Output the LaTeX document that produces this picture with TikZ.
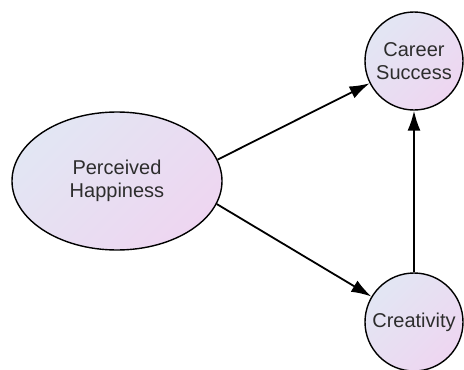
\documentclass[tikz,border=0pt]{standalone}
\usepackage{fontspec}
\setmainfont{Liberation Sans}
\usetikzlibrary{shapes.geometric,arrows.meta}
\definecolor{fillA}{RGB}{226,230,243}
\definecolor{fillB}{RGB}{238,214,241}
\definecolor{txt}{RGB}{45,45,45}
\tikzset{
  construct/.style={draw=black, line width=1.4pt, left color=fillA, right color=fillB,
    shading angle=45, text=txt, align=center,
    font=\fontsize{20}{23}\selectfont, inner sep=0pt},
  bigoval/.style={construct, ellipse, minimum width=210pt, minimum height=138pt},
  smallcirc/.style={construct, circle, minimum size=98pt},
  path/.style={draw=black, line width=1.8pt, -{Latex[length=20pt,width=13pt]}}
}
\begin{document}
\begin{tikzpicture}[x=1pt,y=-1pt]
  \useasboundingbox (0,0) rectangle (464,370);
  \node[bigoval] (ph) at (117,181) {Perceived\\Happiness};
  \node[smallcirc] (cs) at (414,61) {Career\\Success};
  \node[smallcirc] (cr) at (414,322) {Creativity};
  \draw[path] (ph.12) -- (cs);
  \draw[path] (ph.-13) -- (cr);
  \draw[path] (cr) -- (cs);
\end{tikzpicture}
\end{document}
